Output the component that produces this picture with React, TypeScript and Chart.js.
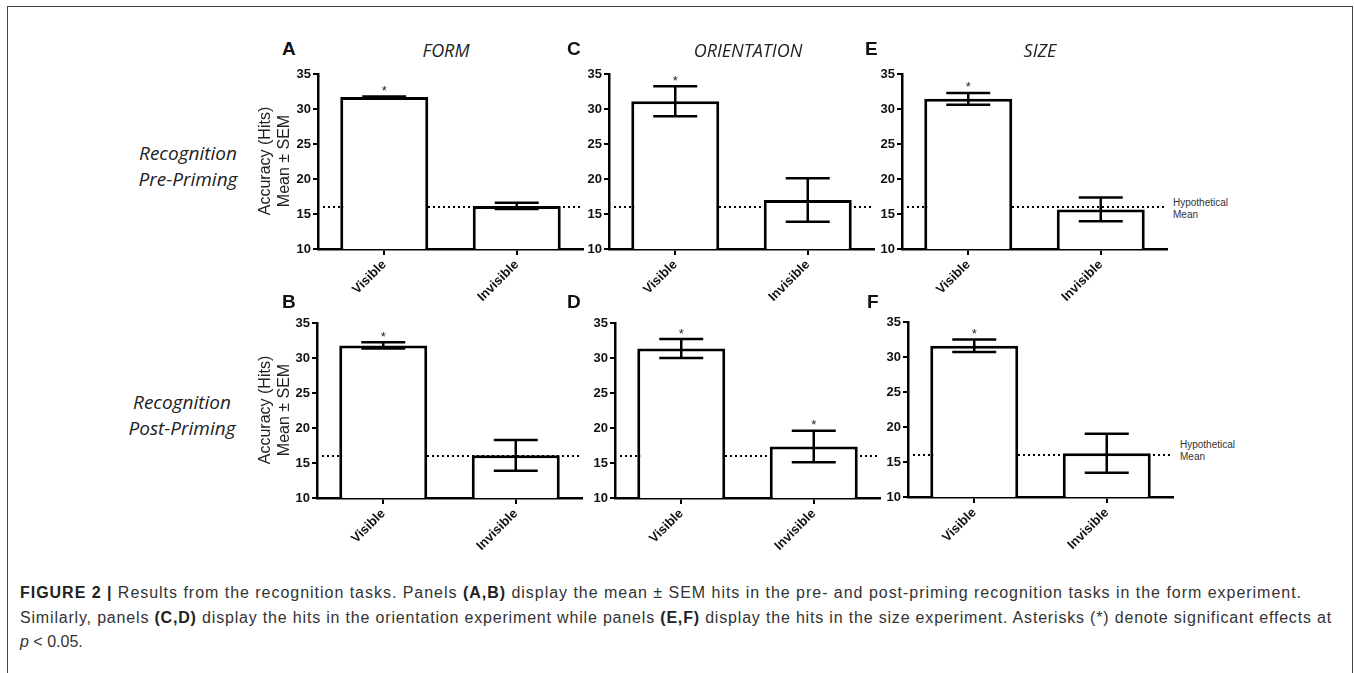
import React, { useEffect, useLayoutEffect, useRef } from 'react';
import { Chart, registerables } from 'chart.js';

Chart.register(...registerables);

// ---------- data ----------
const categories = ['Visible', 'Invisible'];
const yMin = 10;
const yMax = 35;
const yStep = 5;
const hypotheticalMean = 16;

const formPreMeans = [31.7, 16.15];
const formPreSem = [0.1, 0.45];
const formPreSig = [true, false];

const orientationPreMeans = [31.1, 17.0];
const orientationPreSem = [2.15, 3.1];
const orientationPreSig = [true, false];

const sizePreMeans = [31.45, 15.65];
const sizePreSem = [0.85, 1.7];
const sizePreSig = [true, false];

const formPostMeans = [31.8, 16.1];
const formPostSem = [0.45, 2.2];
const formPostSig = [true, false];

const orientationPostMeans = [31.35, 17.35];
const orientationPostSem = [1.35, 2.25];
const orientationPostSig = [true, true];

const sizePostMeans = [31.6, 16.25];
const sizePostSem = [0.9, 2.8];
const sizePostSig = [true, false];

const experimentTitles = ['FORM', 'ORIENTATION', 'SIZE'];
const panelLetters = ['A', 'C', 'E', 'B', 'D', 'F'];
const yAxisLabel = ['Accuracy (Hits)', 'Mean ± SEM'];
const hypotheticalLabel = ['Hypothetical', 'Mean'];

// ---------- layout ----------
const YW = 30; // y-axis box width
const PT = 12; // top padding
const PR = 4; // right padding
const XH = 70; // x-axis box height
const AREA_W = 265;
const AREA_H = 175;

const TICK_FONT = { family: '"Liberation Sans", Arial, sans-serif', size: 13, weight: 'bold' as const };

type PanelProps = {
  means: number[];
  sem: number[];
  sig: boolean[];
  left: number;
  top: number;
};

function Panel({ means, sem, sig, left, top }: PanelProps) {
  const ref = useRef<HTMLCanvasElement>(null);
  const width = YW + AREA_W + PR;
  const height = PT + AREA_H + XH;

  useEffect(() => {
    const refLine = {
      id: 'refLine',
      beforeDatasetsDraw(chart: any) {
        const { ctx, chartArea, scales } = chart;
        const y = scales.y.getPixelForValue(hypotheticalMean);
        ctx.save();
        ctx.strokeStyle = '#000';
        ctx.lineWidth = 2;
        ctx.setLineDash([2, 3]);
        ctx.beginPath();
        ctx.moveTo(chartArea.left + 5, y);
        ctx.lineTo(chartArea.right, y);
        ctx.stroke();
        ctx.restore();
      },
    };
    const errorBars = {
      id: 'errorBars',
      afterDatasetsDraw(chart: any) {
        const { ctx, scales } = chart;
        const meta = chart.getDatasetMeta(0);
        ctx.save();
        ctx.strokeStyle = '#000';
        ctx.lineWidth = 2.5;
        meta.data.forEach((bar: any, i: number) => {
          const x = bar.x;
          const half = bar.width * 0.25;
          const yTop = scales.y.getPixelForValue(means[i] + sem[i]);
          const yBot = scales.y.getPixelForValue(means[i] - sem[i]);
          ctx.beginPath();
          ctx.moveTo(x, yTop);
          ctx.lineTo(x, yBot);
          ctx.moveTo(x - half, yTop);
          ctx.lineTo(x + half, yTop);
          ctx.moveTo(x - half, yBot);
          ctx.lineTo(x + half, yBot);
          ctx.stroke();
          if (sig[i]) {
            ctx.fillStyle = '#222';
            ctx.font = '13px "Liberation Sans", Arial, sans-serif';
            ctx.textAlign = 'center';
            ctx.textBaseline = 'alphabetic';
            ctx.fillText('*', x, Math.min(yTop, bar.y) - 1.5);
          }
        });
        ctx.restore();
      },
    };

    const chart = new Chart(ref.current as HTMLCanvasElement, {
      type: 'bar',
      data: {
        labels: categories,
        datasets: [
          {
            data: means,
            backgroundColor: '#fff',
            borderColor: '#000',
            borderWidth: 3,
            borderSkipped: 'bottom',
            barPercentage: 0.664,
            categoryPercentage: 1,
          },
        ],
      },
      options: {
        animation: false,
        responsive: false,
        layout: { padding: { top: PT, right: PR, left: 0, bottom: 0 } },
        plugins: {
          legend: { display: false },
          tooltip: { enabled: false },
        },
        scales: {
          x: {
            type: 'category',
            offset: true,
            grid: {
              display: true,
              offset: false,
              drawOnChartArea: false,
              drawTicks: true,
              tickLength: 6,
              color: '#000',
              lineWidth: 2,
            },
            border: { display: true, color: '#000', width: 2.5 },
            ticks: {
              minRotation: 45,
              maxRotation: 45,
              autoSkip: false,
              font: TICK_FONT,
              color: '#111',
              padding: 2,
            },
            afterFit: (s: any) => {
              s.height = XH;
              s.paddingLeft = 0;
              s.paddingRight = 0;
            },
          },
          y: {
            min: yMin,
            max: yMax,
            ticks: { stepSize: yStep, font: TICK_FONT, color: '#111', padding: 2 },
            grid: {
              display: true,
              drawOnChartArea: false,
              drawTicks: true,
              tickLength: 5,
              color: '#000',
              lineWidth: 2,
            },
            border: { display: true, color: '#000', width: 2.5 },
            afterFit: (s: any) => {
              s.width = YW;
              s.paddingTop = 0;
              s.paddingBottom = 0;
            },
          },
        },
      } as any,
      plugins: [refLine, errorBars],
    });
    return () => chart.destroy();
  }, [means, sem, sig]);

  return (
    <canvas
      ref={ref}
      width={width}
      height={height}
      style={{ position: 'absolute', left: left - YW, top: top - PT, width, height }}
    />
  );
}

const panels = [
  { means: formPreMeans, sem: formPreSem, sig: formPreSig, left: 318, top: 74 },
  { means: orientationPreMeans, sem: orientationPreSem, sig: orientationPreSig, left: 609, top: 74 },
  { means: sizePreMeans, sem: sizePreSem, sig: sizePreSig, left: 902, top: 74 },
  { means: formPostMeans, sem: formPostSem, sig: formPostSig, left: 317, top: 323 },
  { means: orientationPostMeans, sem: orientationPostSem, sig: orientationPostSig, left: 615, top: 323 },
  { means: sizePostMeans, sem: sizePostSem, sig: sizePostSig, left: 908, top: 322 },
];

const letterPos = [
  [282, 49],
  [567, 49],
  [865, 49],
  [282, 302],
  [567, 302],
  [867, 302],
];
const titleCenters = [446, 748, 1040];

const abs = (extra: React.CSSProperties): React.CSSProperties => ({ position: 'absolute', whiteSpace: 'nowrap', ...extra });

export default function App() {
  const line1 = useRef<HTMLDivElement>(null);
  const line2 = useRef<HTMLDivElement>(null);

  useLayoutEffect(() => {
    const fit = (el: HTMLDivElement | null, target: number) => {
      if (!el) return;
      el.style.letterSpacing = '0px';
      const w = el.getBoundingClientRect().width;
      const n = (el.textContent || '').length;
      el.style.letterSpacing = `${(target - w) / n}px`;
    };
    fit(line1.current, 1282);
    fit(line2.current, 1312);
  }, []);

  const sans = '"Liberation Sans", Arial, sans-serif';
  const humanist = '"Open Sans", "Noto Sans", sans-serif';
  const capFont: React.CSSProperties = { fontFamily: sans, fontSize: 16, color: '#333', lineHeight: '19px' };

  return (
    <div
      style={{
        position: 'absolute',
        left: 0,
        top: 0,
        width: 1354,
        height: 673,
        overflow: 'hidden',
        background: '#fff',
        fontFamily: sans,
      }}
    >
      <div style={abs({ left: 7, top: 6, width: 1344, height: 720, border: '1px solid #444' })} />

      {panels.map((p, i) => (
        <Panel key={i} {...p} />
      ))}

      {panelLetters.map((l, i) => (
        <div
          key={l}
          style={abs({
            left: letterPos[i][0],
            top: letterPos[i][1] - 12,
            fontSize: 19,
            fontWeight: 'bold',
            lineHeight: '24px',
            color: '#111',
          })}
        >
          {l}
        </div>
      ))}

      {experimentTitles.map((t, i) => (
        <div
          key={t}
          style={abs({
            left: titleCenters[i],
            top: 50,
            transform: 'translate(-50%, -50%)',
            fontFamily: humanist,
            fontStyle: 'italic',
            fontSize: 18,
            lineHeight: '22px',
            color: '#222',
          })}
        >
          {t}
        </div>
      ))}

      {[161, 410].map((cy, i) => (
        <div
          key={'yl' + i}
          style={abs({
            left: 273.5,
            top: cy,
            transform: 'translate(-50%, -50%) rotate(-90deg)',
            fontSize: 16,
            lineHeight: '19px',
            textAlign: 'center',
            color: '#222',
          })}
        >
          {yAxisLabel[0]}
          <br />
          {yAxisLabel[1]}
        </div>
      ))}

      {[
        { cx: 188, cy: 166, lines: ['Recognition', 'Pre-Priming'] },
        { cx: 182, cy: 415, lines: ['Recognition', 'Post-Priming'] },
      ].map((r, i) => (
        <div
          key={'rl' + i}
          style={abs({
            left: r.cx,
            top: r.cy,
            transform: 'translate(-50%, -50%)',
            fontFamily: humanist,
            fontStyle: 'italic',
            fontSize: 19,
            lineHeight: '26px',
            textAlign: 'center',
            color: '#222',
          })}
        >
          {r.lines[0]}
          <br />
          {r.lines[1]}
        </div>
      ))}

      {[
        { left: 1173, top: 197 },
        { left: 1180, top: 439 },
      ].map((h, i) => (
        <div
          key={'hm' + i}
          style={abs({ left: h.left, top: h.top, fontSize: 10, lineHeight: '12px', color: '#333' })}
        >
          {hypotheticalLabel[0]}
          <br />
          {hypotheticalLabel[1]}
        </div>
      ))}

      <div ref={line1} style={abs({ left: 20, top: 583, ...capFont })}>
        <b style={{ color: '#222' }}>FIGURE 2 |</b> Results from the recognition tasks. Panels <b style={{ color: '#222' }}>(A,B)</b> display the mean ± SEM hits in the pre- and post-priming recognition tasks in the form experiment.
      </div>
      <div ref={line2} style={abs({ left: 20, top: 608, ...capFont })}>
        Similarly, panels <b style={{ color: '#222' }}>(C,D)</b> display the hits in the orientation experiment while panels <b style={{ color: '#222' }}>(E,F)</b> display the hits in the size experiment. Asterisks (*) denote significant effects at
      </div>
      <div style={abs({ left: 20, top: 632, ...capFont })}>
        <i>p</i> &lt; 0.05.
      </div>
    </div>
  );
}
